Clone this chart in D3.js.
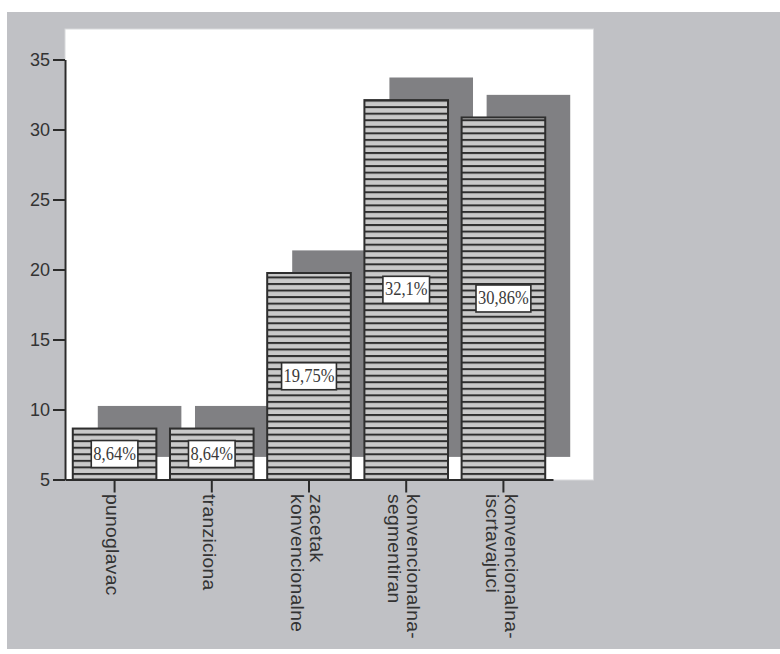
<!DOCTYPE html>
<html>
<head>
<meta charset="utf-8">
<script src="https://cdn.jsdelivr.net/npm/d3@7"></script>
<style>
  html, body { margin: 0; padding: 0; background: #ffffff; }
  svg { display: block; }
</style>
</head>
<body>
<svg id="chart" width="780" height="654"></svg>
<script>
// Category names, split into the lines shown under each bar
const categories = [
  "punoglavac",
  "tranziciona",
  "zacetak konvencionalne",
  "konvencionalna-segmentiran",
  "konvencionalna-iscrtavajuci"
];
const categoryLines = [
  ["punoglavac"],
  ["tranziciona"],
  ["zacetak", "konvencionalne"],
  ["konvencionalna-", "segmentiran"],
  ["konvencionalna-", "iscrtavajuci"]
];
// Share of cases per category (%)
const percentages = [8.64, 8.64, 19.75, 32.1, 30.86];
// Value axis ticks
const yTicks = [5, 10, 15, 20, 25, 30, 35];

const svg = d3.select("#chart");

const colors = {
  panel: "#c0c1c5",
  plot: "#ffffff",
  shadow: "#808083",
  stripeLight: "#c9c9c9",
  stripeDark: "#2e2e2e",
  ink: "#2b2b2b"
};

// Outer grey panel and white plotting area
svg.append("rect").attr("x", 7).attr("y", 12).attr("width", 773).attr("height", 637)
  .attr("fill", colors.panel);
svg.append("rect").attr("x", 65).attr("y", 29).attr("width", 528.5).attr("height", 451)
  .attr("fill", colors.plot).attr("stroke", "#d8d9dc").attr("stroke-width", 1);

const axisLeftX = 65, baseY = 479.5, topY = 59.5, axisRightX = 553;

const x = d3.scaleBand()
  .domain(categories)
  .range([axisLeftX, axisRightX])
  .paddingInner(0.14)
  .paddingOuter(0.08);

const y = d3.scaleLinear().domain([5, 35]).range([baseY, topY]);

// Horizontal hatch fill used by the bars, phased from the baseline
const defs = svg.append("defs");
const pat = defs.append("pattern")
  .attr("id", "hatch")
  .attr("patternUnits", "userSpaceOnUse")
  .attr("width", 10).attr("height", 6.55)
  .attr("patternTransform", `translate(0,${baseY})`);
pat.append("rect").attr("width", 10).attr("height", 6.55).attr("fill", colors.stripeLight);
pat.append("rect").attr("y", 0).attr("width", 10).attr("height", 2).attr("fill", colors.stripeDark);

// Offset grey blocks behind the bars
const shadowDx = 25, shadowDy = -22.6;
svg.append("g").selectAll("rect")
  .data(percentages)
  .join("rect")
  .attr("x", (d, i) => x(categories[i]) + shadowDx)
  .attr("y", d => y(d) + shadowDy)
  .attr("width", x.bandwidth())
  .attr("height", d => baseY - y(d))
  .attr("fill", colors.shadow);

// Hatched bars
svg.append("g").selectAll("rect")
  .data(percentages)
  .join("rect")
  .attr("x", (d, i) => x(categories[i]))
  .attr("y", d => y(d))
  .attr("width", x.bandwidth())
  .attr("height", d => baseY - y(d))
  .attr("fill", "url(#hatch)")
  .attr("stroke", colors.stripeDark)
  .attr("stroke-width", 2);

// Value labels in white boxes at mid-height of each bar
const fmt = v => String(v).replace(".", ",") + "%";
const labels = svg.append("g").selectAll("g")
  .data(percentages)
  .join("g")
  .attr("transform", (d, i) =>
    `translate(${x(categories[i]) + x.bandwidth() / 2},${(y(d) + baseY) / 2})`);

labels.each(function (d) {
  const g = d3.select(this);
  const box = g.append("rect");
  const t = g.append("text")
    .attr("text-anchor", "middle")
    .attr("transform", "scale(1,1.2)")
    .attr("y", 4.6)
    .attr("font-family", "'Liberation Serif', 'Times New Roman', serif")
    .attr("font-size", 16.5)
    .attr("fill", "#3a3a3a")
    .text(fmt(d));
  const w = t.node().getComputedTextLength() + 4;
  const h = 27;
  box.attr("x", -w / 2).attr("y", -h / 2).attr("width", w).attr("height", h)
    .attr("fill", "#ffffff").attr("stroke", colors.stripeDark).attr("stroke-width", 1.6);
});

// Value axis
const yAxis = svg.append("g")
  .attr("transform", `translate(${axisLeftX},0)`)
  .call(d3.axisLeft(y).tickValues(yTicks).tickSizeInner(12).tickSizeOuter(0).tickPadding(3));
yAxis.select(".domain").attr("stroke", colors.ink).attr("stroke-width", 2);
yAxis.selectAll(".tick line").attr("stroke", colors.ink).attr("stroke-width", 2);
yAxis.selectAll(".tick text")
  .attr("font-family", "'Liberation Sans', Arial, sans-serif")
  .attr("font-size", 18)
  .attr("fill", "#333333");

// Category axis with rotated, multi-line labels
const xAxis = svg.append("g")
  .attr("transform", `translate(0,${baseY})`)
  .call(d3.axisBottom(x).tickSizeInner(13).tickSizeOuter(0).tickFormat(""));
xAxis.select(".domain").attr("stroke", colors.ink).attr("stroke-width", 2);
xAxis.selectAll(".tick line").attr("stroke", colors.ink).attr("stroke-width", 2);

const fs = 18, lineGap = 19, labelTop = 494;
categories.forEach((c, i) => {
  const lines = categoryLines[i];
  const cx = x(c) + x.bandwidth() / 2;
  const g = svg.append("g")
    .attr("transform", `translate(${cx},${labelTop}) rotate(90)`);
  lines.forEach((ln, j) => {
    const centerOff = -2.6 + ((lines.length - 1) / 2 - j) * lineGap;
    g.append("text")
      .attr("x", 0)
      .attr("y", -centerOff + 0.32 * fs)
      .attr("transform", "scale(1.07,1)")
      .attr("font-family", "'Liberation Sans', Arial, sans-serif")
      .attr("font-size", fs)
      .attr("letter-spacing", 0.3)
      .attr("fill", "#333333")
      .text(ln);
  });
});
</script>
</body>
</html>
